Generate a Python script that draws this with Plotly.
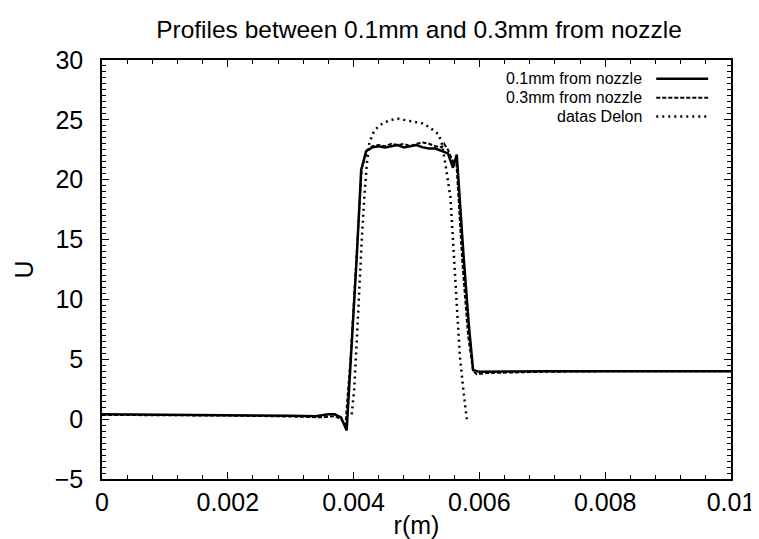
import plotly.graph_objects as go

# radial position (m) and axial velocity U for each profile
r_01mm = [0.0, 0.0010, 0.0020, 0.0030, 0.0034, 0.0036, 0.0037, 0.0038, 0.00389,
          0.00397, 0.00405, 0.00412, 0.00420, 0.00430, 0.00440, 0.00450, 0.00460,
          0.00470, 0.00480, 0.00490, 0.00500, 0.00510, 0.00520, 0.00530, 0.00540,
          0.00550, 0.00558, 0.00564, 0.00575, 0.00583, 0.00590, 0.00600, 0.00700,
          0.00800, 0.00900, 0.01000]
u_01mm = [0.40, 0.38, 0.33, 0.28, 0.25, 0.40, 0.40, 0.15, -0.95,
          6.0, 13.5, 20.8, 22.4, 22.7, 22.8, 22.7, 22.8,
          22.9, 22.7, 22.8, 22.9, 22.7, 22.6, 22.6, 22.4,
          22.2, 21.0, 22.1, 13.5, 8.0, 4.1, 3.95, 4.0,
          4.0, 4.0, 4.0]

r_03mm = [0.0, 0.0010, 0.0020, 0.0030, 0.0035, 0.0037, 0.0038, 0.00387,
          0.00395, 0.00405, 0.00413, 0.00422, 0.00430, 0.00440, 0.00450, 0.00460,
          0.00470, 0.00480, 0.00490, 0.00500, 0.00510, 0.00520, 0.00530, 0.00540,
          0.00544, 0.00550, 0.00558, 0.00563, 0.00573, 0.00582, 0.00590, 0.00596,
          0.00610, 0.00700, 0.00800, 0.01000]
u_03mm = [0.35, 0.33, 0.30, 0.22, 0.15, 0.25, 0.0, -0.5,
          5.0, 14.0, 21.0, 22.5, 22.8, 22.9, 22.8, 23.0,
          22.9, 23.0, 22.8, 23.0, 23.1, 23.0, 22.8, 22.7,
          23.0, 22.5, 21.5, 21.8, 13.0, 7.0, 4.0, 3.75,
          3.85, 3.95, 4.0, 4.0]

r_delon = [0.00397, 0.00401, 0.00405, 0.00409, 0.00413, 0.00417, 0.00421, 0.00425,
           0.00432, 0.00440, 0.00450, 0.00460, 0.00470, 0.00480, 0.00490, 0.00500,
           0.00510, 0.00520, 0.00528, 0.00535, 0.00540, 0.00546, 0.00554, 0.00560,
           0.00565, 0.00569, 0.00575, 0.00580]
u_delon = [0.4, 2.5, 6.5, 11.0, 15.0, 18.5, 21.3, 23.1,
           24.0, 24.5, 24.8, 25.0, 25.1, 25.0, 24.9, 24.8,
           24.7, 24.4, 24.1, 23.8, 23.1, 21.3, 18.5, 13.5,
           9.0, 5.2, 2.2, 0.0]

names = ['0.1mm from nozzle', '0.3mm from nozzle', 'datas Delon']
dashes = ['solid', '4px,2px', '2px,4px']
widths = [2.5, 2, 2.5]

font = 'Liberation Sans, Arial, sans-serif'

fig = go.Figure()
for r, u, d, w in zip([r_01mm, r_03mm, r_delon], [u_01mm, u_03mm, u_delon], dashes, widths):
    fig.add_trace(go.Scatter(x=r, y=u, mode='lines',
                             line=dict(color='black', width=w, dash=d),
                             showlegend=False))

# gnuplot style key: text on the left, line sample on the right
key_y = [0.955, 0.910, 0.865]
for name, d, w, y in zip(names, dashes, widths, key_y):
    fig.add_annotation(x=0.8596, y=y, xref='paper', yref='paper', text=name,
                       showarrow=False, xanchor='right', yanchor='middle',
                       borderpad=0, align='right',
                       font=dict(size=16, color='black', family=font))
    fig.add_shape(type='line', xref='paper', yref='paper', x0=0.8812, x1=0.9637,
                  y0=y, y1=y, line=dict(color='black', width=w, dash=d))

axis_common = dict(showline=True, linecolor='black', linewidth=1.5, mirror='allticks',
                   ticks='inside', ticklen=7, tickcolor='black', showgrid=False,
                   zeroline=False, tickfont=dict(size=25, color='black', family=font))

fig.update_layout(
    width=759, height=539,
    paper_bgcolor='white', plot_bgcolor='white',
    margin=dict(l=94, r=31, t=52, b=67),
    title=dict(text='Profiles between 0.1mm and 0.3mm from nozzle', x=0.5415, xanchor='center',
               y=1 - 21 / 539, yanchor='middle', yref='container',
               font=dict(size=24.5, color='black', family=font)),
    xaxis=dict(range=[0, 0.01], tickvals=[0, 0.002, 0.004, 0.006, 0.008, 0.01],
               ticktext=['0', '0.002', '0.004', '0.006', '0.008', '0.01'],
               minor=dict(ticks='inside', dtick=0.0004, ticklen=4, tickcolor='black'),
               title=dict(text='r(m)', font=dict(size=25, color='black', family=font), standoff=2),
               **axis_common),
    yaxis=dict(range=[-5, 30], dtick=5, ticklabelstandoff=12,
               minor=dict(ticks='inside', dtick=0.5, ticklen=4, tickcolor='black'),
               title=dict(text='U', font=dict(size=25, color='black', family=font), standoff=14),
               **axis_common),
)

fig.write_html("out.html")
